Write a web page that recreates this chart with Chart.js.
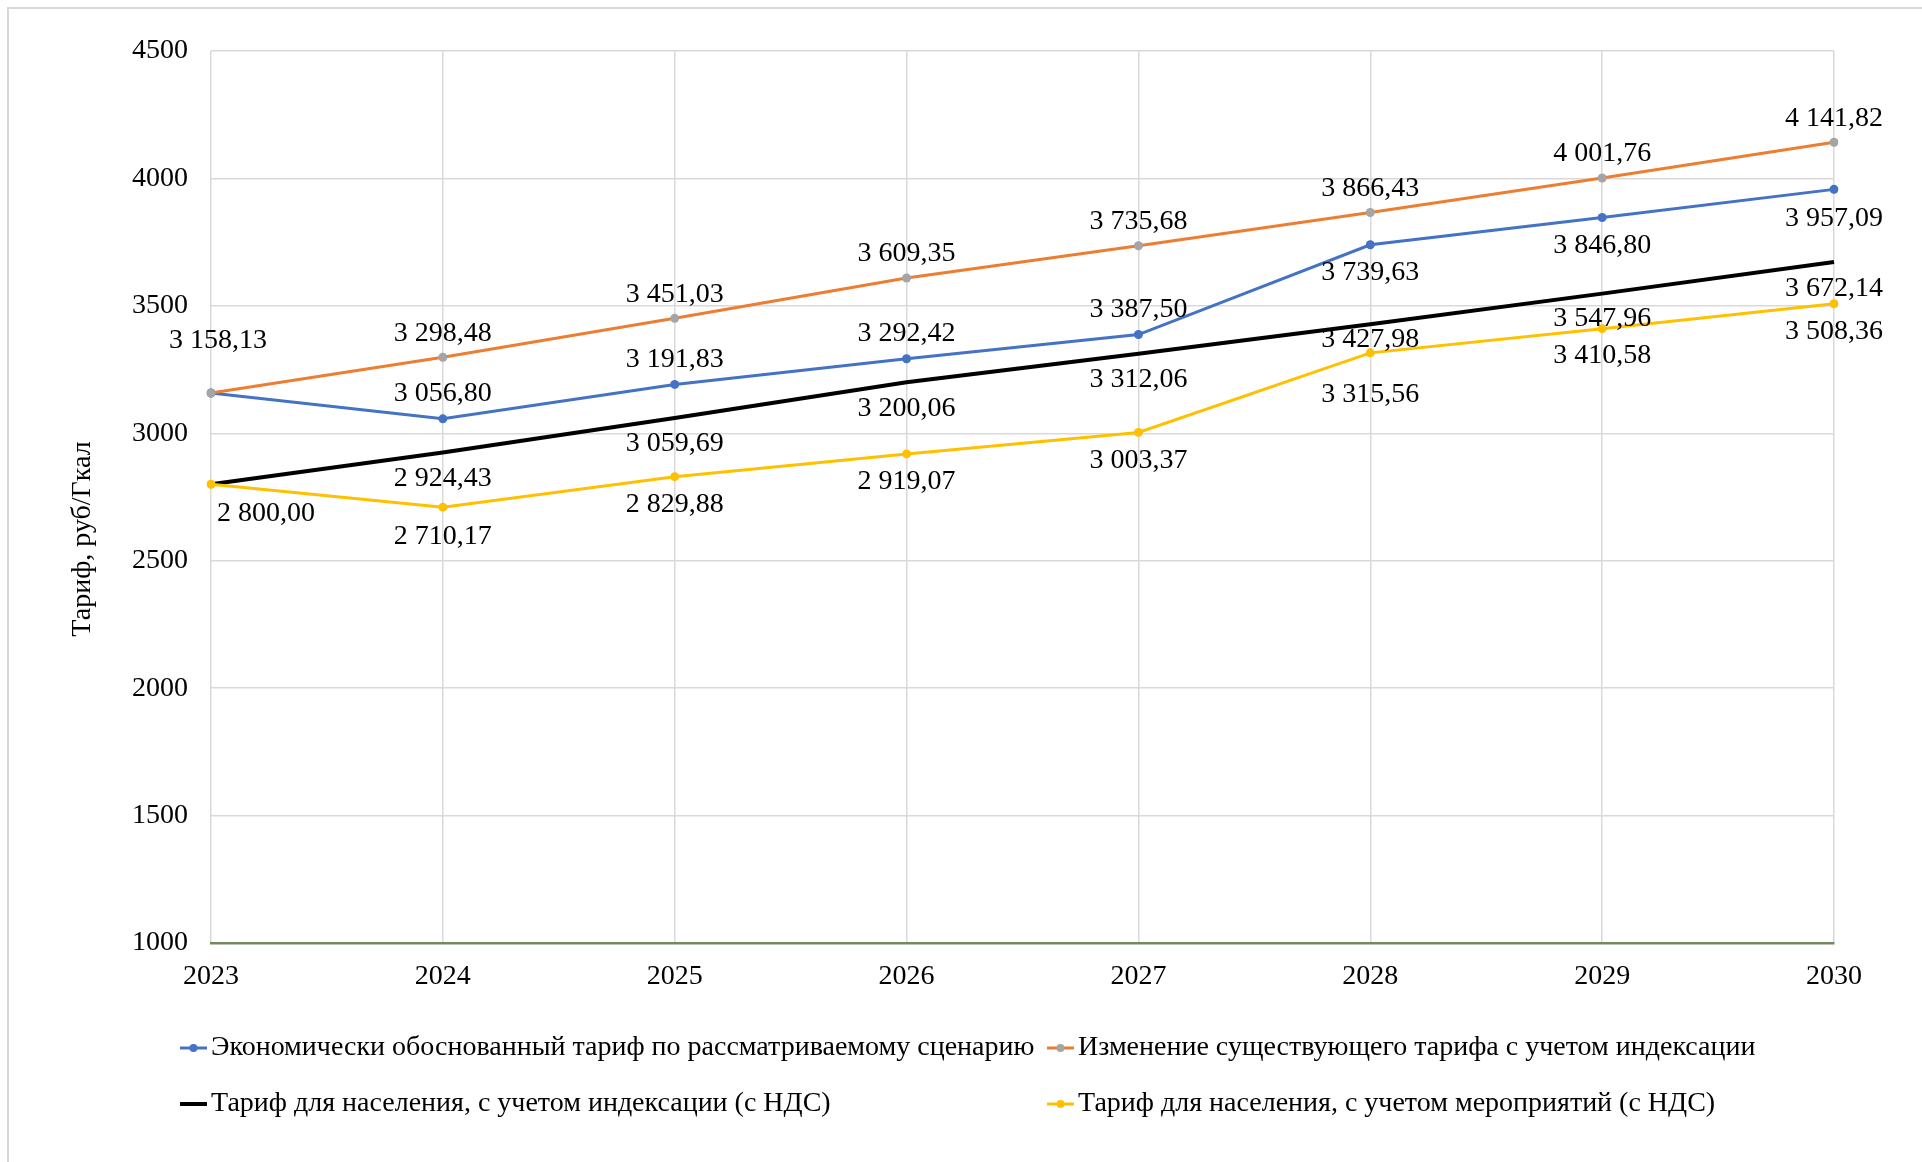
<!DOCTYPE html>
<html>
<head>
<meta charset="utf-8">
<script src="https://cdn.jsdelivr.net/npm/chart.js@4.4.0/dist/chart.umd.min.js"></script>
<style>
html,body{margin:0;padding:0;background:#fff;}
#khung{width:1922px;height:1162px;}
</style>
</head>
<body>
<div id="khung"><canvas id="grafikTarif" width="1922" height="1162"></canvas></div>
<script>
var gody = ['2023','2024','2025','2026','2027','2028','2029','2030'];
var tarifEkonom  = [3158.13, 3056.80, 3191.83, 3292.42, 3387.50, 3739.63, 3846.80, 3957.09];
var tarifIzmen   = [3158.13, 3298.48, 3451.03, 3609.35, 3735.68, 3866.43, 4001.76, 4141.82];
var tarifIndeks  = [2800.00, 2924.43, 3059.69, 3200.06, 3312.06, 3427.98, 3547.96, 3672.14];
var tarifMeropr  = [2800.00, 2710.17, 2829.88, 2919.07, 3003.37, 3315.56, 3410.58, 3508.36];
var nazvaniya = [
  'Экономически обоснованный тариф по рассматриваемому сценарию',
  'Изменение существующего тарифа с учетом индексации',
  'Тариф для населения, с учетом индексации (с НДС)',
  'Тариф для населения, с учетом мероприятий (с НДС)'
];
var shkalaY = [1000, 1500, 2000, 2500, 3000, 3500, 4000, 4500];
var podpisOsi = 'Тариф, руб/Гкал';

// where each value label sits relative to its point (null = not drawn)
var sdvigY = [
  [null, -25, -25, -25, -25, 28, 28, 29],
  [-52, -24, -24, -24, -24, -24, -24, -24],
  [null, 26, 26, 26, 26, 15, 25, 27],
  [29, 29, 28, 28, 28, 42, 27, 28]
];
var sdvigX = [
  [0,0,0,0,0,0,0,0],
  [7,0,0,0,0,0,0,0],
  [0,0,0,0,0,0,0,0],
  [55,0,0,0,0,0,0,0]
];

var shrift = "'Liberation Serif', 'Times New Roman', serif";
Chart.defaults.font.family = shrift;
Chart.defaults.color = '#000';

function formatChisla(v){
  var s = v.toFixed(2).split('.');
  return s[0].replace(/\B(?=(\d{3})+(?!\d))/g, ' ') + ',' + s[1];
}

var ramka = {
  id: 'ramka',
  beforeDraw: function(chart){
    var c = chart.ctx;
    c.save();
    c.fillStyle = '#fff';
    c.fillRect(0, 0, chart.width, chart.height);
    c.strokeStyle = '#d9d9d9';
    c.lineWidth = 2;
    c.beginPath();
    c.moveTo(8, chart.height);
    c.lineTo(8, 8);
    c.lineTo(chart.width, 8);
    c.stroke();
    c.restore();
  }
};

var podpisi = {
  id: 'podpisi',
  afterDatasetsDraw: function(chart){
    var c = chart.ctx;
    c.save();
    c.font = '28px ' + shrift;
    c.fillStyle = '#000';
    c.textAlign = 'center';
    c.textBaseline = 'middle';
    chart.data.datasets.forEach(function(ds, i){
      var meta = chart.getDatasetMeta(i);
      meta.data.forEach(function(pt, j){
        if (sdvigY[i][j] === null) return;
        c.fillText(formatChisla(ds.data[j]), pt.x + sdvigX[i][j], pt.y + sdvigY[i][j]);
      });
    });
    c.restore();
  }
};

var legenda = {
  id: 'legenda',
  afterDraw: function(chart){
    var c = chart.ctx;
    var kol = [211, 1078];
    var ryad = [1048, 1104];
    c.save();
    c.font = '28px ' + shrift;
    c.textBaseline = 'middle';
    chart.data.datasets.forEach(function(ds, i){
      var x = kol[i % 2], y = ryad[Math.floor(i / 2)];
      c.strokeStyle = ds.borderColor;
      c.lineWidth = ds.borderWidth;
      c.beginPath();
      c.moveTo(x - 31, y);
      c.lineTo(x - 4, y);
      c.stroke();
      if (ds.pointRadius > 0) {
        c.fillStyle = ds.pointBackgroundColor;
        c.beginPath();
        c.arc(x - 17.5, y, 4, 0, Math.PI * 2);
        c.fill();
      }
      c.fillStyle = '#000';
      c.textAlign = 'left';
      c.fillText(ds.label, x, y);
    });
    // y axis title
    c.translate(83, 539);
    c.rotate(-Math.PI / 2);
    c.textAlign = 'center';
    c.fillText(podpisOsi, 0, 0);
    c.restore();
  }
};

var ctx = document.getElementById('grafikTarif');
var grafik = new Chart(ctx, {
  type: 'line',
  data: {
    labels: gody,
    datasets: [
      {
        label: nazvaniya[0], data: tarifEkonom,
        borderColor: '#4472c4', backgroundColor: '#4472c4',
        pointBackgroundColor: '#4472c4', pointBorderWidth: 0,
        borderWidth: 3, pointRadius: 4.5, order: 4
      },
      {
        label: nazvaniya[1], data: tarifIzmen,
        borderColor: '#ed7d31', backgroundColor: '#ed7d31',
        pointBackgroundColor: '#a5a5a5', pointBorderWidth: 0,
        borderWidth: 3, pointRadius: 4.5, order: 3
      },
      {
        label: nazvaniya[2], data: tarifIndeks,
        borderColor: '#000000', backgroundColor: '#000000',
        borderWidth: 4, pointRadius: 0, order: 2
      },
      {
        label: nazvaniya[3], data: tarifMeropr,
        borderColor: '#ffc000', backgroundColor: '#ffc000',
        pointBackgroundColor: '#ffc000', pointBorderWidth: 0,
        borderWidth: 3, pointRadius: 4.5, order: 1
      }
    ]
  },
  options: {
    responsive: false,
    animation: false,
    devicePixelRatio: 1,
    layout: { padding: { top: 51, right: 88, left: 0, bottom: 0 } },
    plugins: {
      legend: { display: false },
      tooltip: { enabled: false }
    },
    elements: { line: { tension: 0 } },
    scales: {
      x: {
        offset: false,
        grid: { color: '#d9d9d9', lineWidth: 1.5, drawTicks: false },
        border: { color: '#738a60', width: 2.5 },
        ticks: { font: { size: 28 }, padding: 17, maxRotation: 0 },
        afterFit: function(s){ s.height = 219; }
      },
      y: {
        min: shkalaY[0], max: shkalaY[shkalaY.length - 1],
        grid: { color: '#d9d9d9', lineWidth: 1.5, drawTicks: false },
        border: { display: false },
        ticks: {
          stepSize: shkalaY[1] - shkalaY[0], font: { size: 28 }, padding: 23,
          callback: function(v){ return String(v); }
        },
        afterFit: function(s){ s.width = 211; }
      }
    }
  },
  plugins: [ramka, podpisi, legenda]
});
</script>
</body>
</html>
